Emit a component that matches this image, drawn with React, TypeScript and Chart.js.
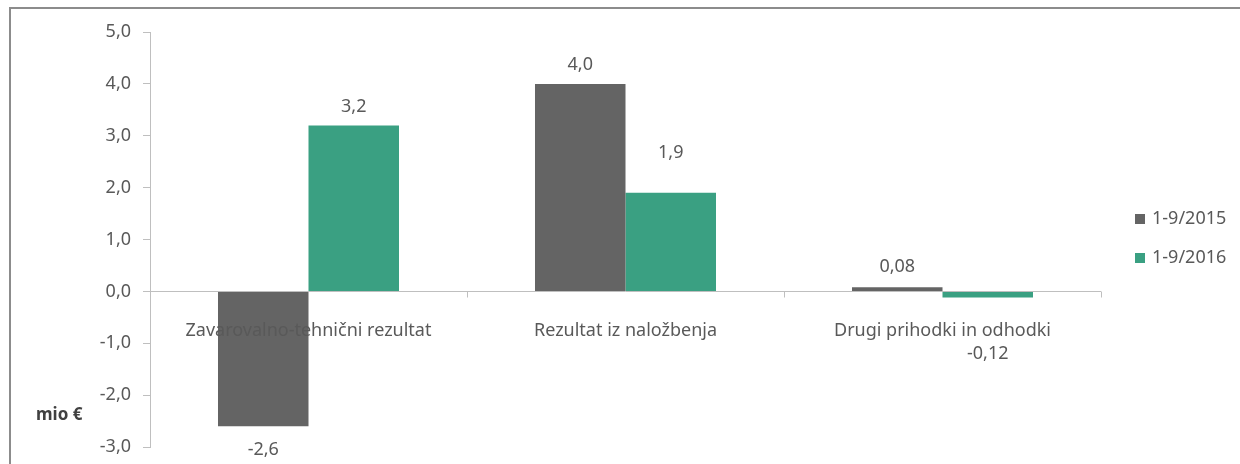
import React, { useEffect, useRef } from "react";
import { Chart, registerables } from "chart.js";

Chart.register(...registerables);

const categories = ["Zavarovalno-tehnični rezultat", "Rezultat iz naložbenja", "Drugi prihodki in odhodki"];
const seriesNames = ["1-9/2015", "1-9/2016"];
const values2015 = [-2.6, 4.0, 0.08];
const values2016 = [3.2, 1.9, -0.12];
const valueLabels2015 = ["-2,6", "4,0", "0,08"];
const valueLabels2016 = ["3,2", "1,9", "-0,12"];
const yMin = -3;
const yMax = 5;
const yStep = 1;
const unitLabel = "mio €";

// styling (label gaps in px from bar end)
const labelGap2015 = [24, 19, 20];
const labelGap2016 = [19, 40, 56];
const colors = ["#646464", "#3aa082"];
const FONT = "'Noto Sans', sans-serif";
const FS = 18;
const TEXT = "#595959";
const AXIS = "#bfbfbf";

const overlay = {
  id: "overlay",
  beforeDraw(chart: any) {
    const ctx = chart.ctx;
    ctx.save();
    ctx.strokeStyle = "#8c8c8c";
    ctx.lineWidth = 2;
    ctx.beginPath();
    ctx.moveTo(10, 464);
    ctx.lineTo(10, 8);
    ctx.lineTo(1240, 8);
    ctx.stroke();
    ctx.restore();
  },
  beforeDatasetsDraw(chart: any) {
    const ctx = chart.ctx;
    const { left, right } = chart.chartArea;
    const y0 = Math.round(chart.scales.y.getPixelForValue(0)) + 0.5;
    ctx.save();
    ctx.strokeStyle = AXIS;
    ctx.lineWidth = 1;
    ctx.beginPath();
    ctx.moveTo(left, y0);
    ctx.lineTo(right, y0);
    const n = categories.length;
    for (let i = 1; i <= n; i++) {
      const x = Math.round(left + ((right - left) * i) / n) + 0.5;
      ctx.moveTo(x, y0);
      ctx.lineTo(x, y0 + 6);
    }
    ctx.stroke();
    ctx.restore();
  },
  afterDraw(chart: any) {
    const ctx = chart.ctx;
    const yScale = chart.scales.y;
    const xScale = chart.scales.x;
    const y0 = yScale.getPixelForValue(0);
    ctx.save();
    ctx.fillStyle = TEXT;
    ctx.font = `${FS}px ${FONT}`;
    ctx.textAlign = "center";
    ctx.textBaseline = "middle";
    categories.forEach((c, i) => {
      ctx.fillText(c, xScale.getPixelForValue(i), y0 + 39);
    });
    const sets = [
      { vals: values2015, labels: valueLabels2015, gaps: labelGap2015 },
      { vals: values2016, labels: valueLabels2016, gaps: labelGap2016 },
    ];
    sets.forEach((s, di) => {
      const meta = chart.getDatasetMeta(di);
      meta.data.forEach((bar: any, i: number) => {
        const v = s.vals[i];
        const y = v >= 0 ? bar.y - s.gaps[i] : bar.y + s.gaps[i];
        ctx.fillText(s.labels[i], bar.x, y);
      });
    });
    // legend
    const legendY = [219, 258];
    ctx.textAlign = "left";
    seriesNames.forEach((name, i) => {
      ctx.fillStyle = colors[i];
      ctx.fillRect(1135, legendY[i] - 5, 10, 10);
      ctx.fillStyle = TEXT;
      ctx.fillText(name, 1152, legendY[i]);
    });
    // unit
    ctx.font = `bold 17px ${FONT}`;
    ctx.fillStyle = "#404040";
    ctx.fillText(unitLabel, 36, 415);
    ctx.restore();
  },
};

export default function App() {
  const ref = useRef<HTMLCanvasElement>(null);
  useEffect(() => {
    document.body.style.margin = "0";
    const chart = new Chart(ref.current!, {
      type: "bar",
      data: {
        labels: categories,
        datasets: [
          { label: seriesNames[0], data: values2015, backgroundColor: colors[0], categoryPercentage: 0.571, barPercentage: 1 },
          { label: seriesNames[1], data: values2016, backgroundColor: colors[1], categoryPercentage: 0.571, barPercentage: 1 },
        ],
      },
      options: {
        animation: false,
        responsive: false,
        devicePixelRatio: 1,
        layout: { padding: { left: 0, top: 32, right: 139, bottom: 17 } },
        plugins: { legend: { display: false }, tooltip: { enabled: false } },
        scales: {
          x: { display: false },
          y: {
            min: yMin,
            max: yMax,
            ticks: {
              stepSize: yStep,
              color: TEXT,
              font: { family: FONT, size: FS },
              padding: 12,
              callback: (v: any) => Number(v).toFixed(1).replace(".", ","),
            },
            grid: { drawOnChartArea: false, drawTicks: true, tickLength: 7, color: AXIS },
            border: { color: AXIS },
            afterFit: (s: any) => {
              s.width = 150;
              s.paddingTop = 0;
              s.paddingBottom = 0;
            },
          },
        },
      },
      plugins: [overlay],
    });
    return () => chart.destroy();
  }, []);
  return (
    <div style={{ position: "absolute", left: 0, top: 0, width: 1240, height: 464 }}>
      <canvas ref={ref} width={1240} height={464} style={{ display: "block", width: 1240, height: 464 }} />
    </div>
  );
}
